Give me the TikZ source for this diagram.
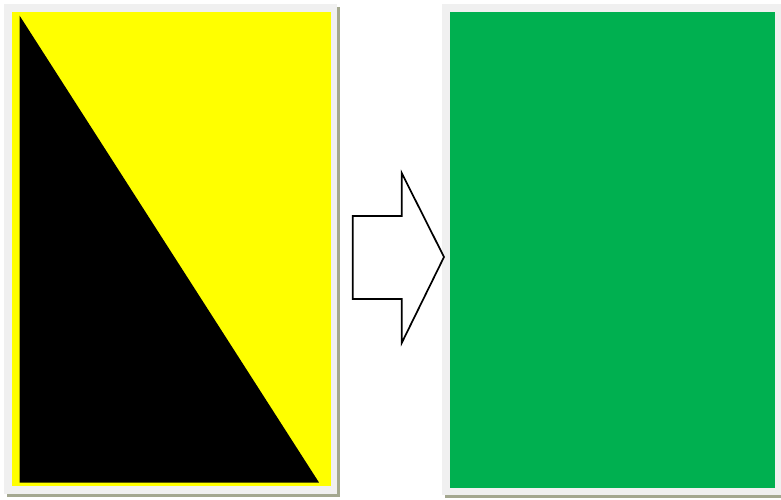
\documentclass[tikz,border=0pt]{standalone}
\definecolor{frame}{HTML}{F0F0F0}
\definecolor{shade}{HTML}{A4A890}
\definecolor{sunny}{HTML}{FFFF00}
\definecolor{leaf}{HTML}{00B050}

\begin{document}
\begin{tikzpicture}[
  x=1pt, y=-1pt,
  shadow/.style = {fill=shade, draw=none},
  mat/.style    = {fill=frame, draw=none},
  card/.style   = {draw=none},
  wedge/.style  = {fill=black, draw=none},
  bigarr/.style = {draw=black, line width=1.7pt, fill=white, line join=miter},
]
\useasboundingbox (0,0) rectangle (781,499);

% ---------- left card ----------
\fill[shadow] (7,7) rectangle (340,497);
\fill[mat] (4,4) rectangle (337,494);
\fill[card, fill=sunny] (12,12) rectangle (330.5,485.5);
\fill[wedge] (19.5,15.5) -- (19.5,482.5) -- (319,482.5) -- cycle;

% ---------- right card ----------
\fill[shadow] (445,7) rectangle (781,498);
\fill[mat] (442,4) rectangle (781,495);
\fill[card, fill=leaf] (450,12) rectangle (775,488);

% ---------- arrow ----------
\draw[bigarr] (352.7,216) -- (401.7,216) -- (401.7,173) -- (444,257)
  -- (401.7,343) -- (401.7,299) -- (352.7,299) -- cycle;

\end{tikzpicture}
\end{document}
